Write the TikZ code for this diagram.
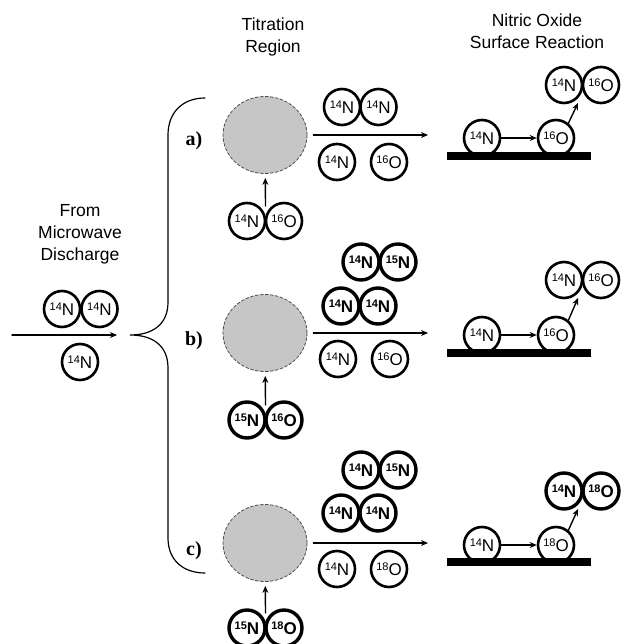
\documentclass[tikz,border=0pt]{standalone}
\usepackage{fontspec}
\setmainfont{Liberation Sans}
\newfontfamily\labserif{Liberation Serif}
\usetikzlibrary{arrows.meta,shapes.geometric}
\newcommand{\iso}[2]{{\fontsize{11}{11}\selectfont\raisebox{4.5pt}{#1}}#2}

\begin{document}
\begin{tikzpicture}[x=1pt,y=-1pt,>={Stealth[length=7pt,width=6pt]},line cap=round,
  atom/.style={circle,draw,line width=2.6pt,minimum size=36pt,inner sep=0pt,font=\fontsize{17}{17}\selectfont},
  heavy/.style={atom,line width=3.4pt,font=\fontsize{17}{17}\selectfont\bfseries},
  cloud/.style={ellipse,draw=gray!60!black,dash pattern=on 3pt off 2pt,fill=gray!45,line width=0.8pt,minimum width=84pt,minimum height=77pt,inner sep=0pt},
  title/.style={align=center,font=\fontsize{17.5}{22}\selectfont},
  case/.style={font=\fontsize{20}{20}\selectfont\labserif\bfseries},
  flow/.style={->,line width=1.4pt},
  brace/.style={line width=1.2pt}]
\useasboundingbox (0,0) rectangle (623,644);
% headings
\node[title] (tsrc) at (80,234) {From\\Microwave\\Discharge};
\node[title] (ttit) at (273,37) {Titration\\Region};
\node[title] (tsurf) at (537,31) {Nitric Oxide\\Surface Reaction};
% discharge products
\node[atom] (sN2a) at (62,309) {\iso{14}{N}};
\node[atom] (sN2b) at (99.5,309) {\iso{14}{N}};
\node[atom] (sN) at (80,362) {\iso{14}{N}};
\coordinate (sbeg) at (12,335);
\coordinate (send) at (117,335);
\draw[flow] (sbeg) -- (send);
\draw[brace] (205,98) .. controls (183,98) and (168,112) .. (168,135) -- (168,302)
  .. controls (168,325) and (152,335) .. (130,335)
  .. controls (152,335) and (168,345) .. (168,368) -- (168,538)
  .. controls (168,560) and (183,573) .. (205,573);
\node[case] (la) at (194,141) {a)};
\node[case] (lb) at (194,341) {b)};
\node[case] (lc) at (194,551) {c)};
% a)
\node[cloud] (acloud) at (265,135) {};
\node[atom] (aupN) at (247,221) {\iso{14}{N}};
\node[atom] (aupO) at (284,221) {\iso{16}{O}};
\coordinate (aupin) at (265.5,206);
\draw[flow,shorten >=4pt] (aupin) -- (acloud);
\node[atom] (aN2a) at (342,107) {\iso{14}{N}};
\node[atom] (aN2b) at (378.5,107) {\iso{14}{N}};
\node[atom] (aN) at (337,162) {\iso{14}{N}};
\node[atom] (aO) at (389,162) {\iso{16}{O}};
\coordinate (aend) at (428,135);
\draw[flow,shorten <=6pt] (acloud) -- (aend);
\node[atom] (asN) at (482,138) {\iso{14}{N}};
\node[atom] (asO) at (556,138) {\iso{16}{O}};
\fill (447,152) rectangle (591,160);
\node[atom] (adN) at (564,85) {\iso{14}{N}};
\node[atom] (adO) at (601,85) {\iso{16}{O}};
\coordinate (adin) at (578,103);
\draw[flow] (asN) -- (asO);
\draw[flow] (asO.50) -- (adin);
% b)
\node[cloud] (bcloud) at (265,333) {};
\node[heavy] (bupN) at (247,420) {\iso{15}{N}};
\node[heavy] (bupO) at (284,420) {\iso{16}{O}};
\coordinate (bupin) at (265.5,405);
\draw[flow,shorten >=4pt] (bupin) -- (bcloud);
\node[heavy] (bNNa) at (361,262) {\iso{14}{N}};
\node[heavy] (bNNb) at (398,262) {\iso{15}{N}};
\node[heavy] (bN2a) at (341,306) {\iso{14}{N}};
\node[heavy] (bN2b) at (378,306) {\iso{14}{N}};
\node[atom] (bN) at (338,359) {\iso{14}{N}};
\node[atom] (bO) at (390,359) {\iso{16}{O}};
\coordinate (bend) at (428,333);
\draw[flow,shorten <=6pt] (bcloud) -- (bend);
\node[atom] (bsN) at (482,335) {\iso{14}{N}};
\node[atom] (bsO) at (556,335) {\iso{16}{O}};
\fill (447,349) rectangle (591,357);
\node[atom] (bdN) at (564,280) {\iso{14}{N}};
\node[atom] (bdO) at (601,280) {\iso{16}{O}};
\coordinate (bdin) at (578,298);
\draw[flow] (bsN) -- (bsO);
\draw[flow] (bsO.50) -- (bdin);
% c)
\node[cloud] (ccloud) at (265,543) {};
\node[heavy] (cupN) at (247,628) {\iso{15}{N}};
\node[heavy] (cupO) at (284,628) {\iso{18}{O}};
\coordinate (cupin) at (265.5,613);
\draw[flow,shorten >=4pt] (cupin) -- (ccloud);
\node[heavy] (cNNa) at (361,470) {\iso{14}{N}};
\node[heavy] (cNNb) at (398,470) {\iso{15}{N}};
\node[heavy] (cN2a) at (341,513) {\iso{14}{N}};
\node[heavy] (cN2b) at (378,513) {\iso{14}{N}};
\node[atom] (cN) at (337,569) {\iso{14}{N}};
\node[atom] (cO) at (389,569) {\iso{18}{O}};
\coordinate (cend) at (428,543);
\draw[flow,shorten <=6pt] (ccloud) -- (cend);
\node[atom] (csN) at (482,545) {\iso{14}{N}};
\node[atom] (csO) at (556,545) {\iso{18}{O}};
\fill (447,558) rectangle (591,566);
\node[heavy] (cdN) at (564,491) {\iso{14}{N}};
\node[heavy] (cdO) at (601,491) {\iso{18}{O}};
\coordinate (cdin) at (578,509);
\draw[flow] (csN) -- (csO);
\draw[flow] (csO.50) -- (cdin);
\end{tikzpicture}
\end{document}
